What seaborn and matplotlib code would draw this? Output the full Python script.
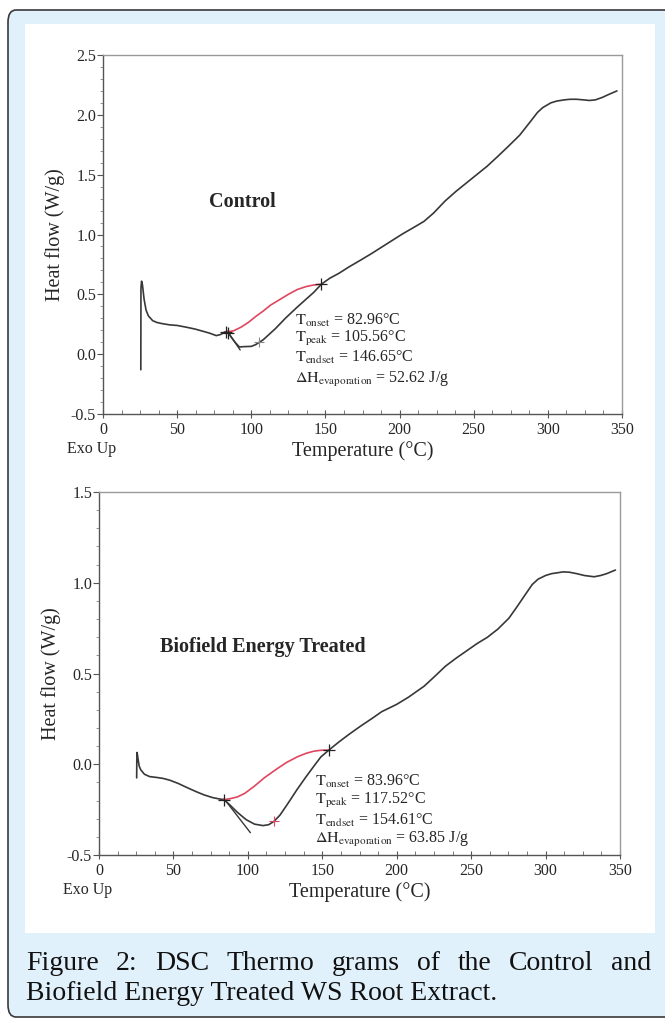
import numpy as np
import pandas as pd
import matplotlib
matplotlib.use("Agg")
import matplotlib.pyplot as plt
import seaborn as sns
from matplotlib.patches import Rectangle, FancyBboxPatch
from matplotlib.ticker import MultipleLocator

# control thermogram
ctrl_T = [25.5, 25.6, 26.0, 26.6, 27.7, 29.0, 30.6, 33.5, 36.3, 40.0, 44.9, 50.0, 56.3, 62.0,
          67.8, 72.0, 76.4, 79.5, 82.0, 84.0, 86.0, 89.0, 92.0, 95.0, 100.0, 103.0, 105.5,
          108.0, 112.0, 116.4, 123.0, 130.7, 137.0, 142.0, 147.3, 153.0, 159.0, 166.0, 173.6,
          181.0, 188.0, 195.0, 202.0, 209.0, 216.5, 223.0, 230.7, 238.0, 245.0, 252.0, 259.0,
          266.0, 273.6, 281.0, 288.0, 293.0, 296.5, 302.0, 306.0, 311.0, 315.0, 319.4, 324.0,
          328.0, 332.0, 336.6, 341.0, 346.6]
ctrl_HF = [-0.13, 0.55, 0.61, 0.58, 0.46, 0.37, 0.32, 0.28, 0.265, 0.255, 0.245, 0.24, 0.225,
           0.21, 0.19, 0.175, 0.155, 0.165, 0.185, 0.19, 0.15, 0.10, 0.06, 0.063, 0.065, 0.08,
           0.10, 0.12, 0.165, 0.215, 0.30, 0.39, 0.46, 0.515, 0.585, 0.635, 0.675, 0.73, 0.785,
           0.84, 0.895, 0.95, 1.005, 1.055, 1.11, 1.18, 1.28, 1.36, 1.43, 1.50, 1.57, 1.65,
           1.74, 1.83, 1.94, 2.02, 2.06, 2.10, 2.115, 2.125, 2.13, 2.13, 2.125, 2.12, 2.125,
           2.145, 2.17, 2.20]
ctrl_base_T = [83.0, 88.0, 93.0, 98.0, 103.0, 108.0, 113.0, 119.0, 125.0, 131.0, 137.0, 142.0, 147.3]
ctrl_base_HF = [0.185, 0.195, 0.225, 0.265, 0.315, 0.36, 0.41, 0.455, 0.50, 0.54, 0.565, 0.578, 0.585]
ctrl_tan_T = [84.0, 92.5]
ctrl_tan_HF = [0.19, 0.035]
ctrl_marks_T = [83.0, 84.5, 147.3]
ctrl_marks_HF = [0.185, 0.18, 0.585]
ctrl_peak = (105.5, 0.10)
ctrl_notes = ["82.96°C", "105.56°C", "146.65°C", "52.62 J/g"]

# biofield treated thermogram
bio_T = [25.3, 25.4, 25.6, 26.2, 27.0, 28.0, 30.5, 34.0, 39.0, 43.0, 47.6, 53.0, 59.0, 65.0,
         70.3, 76.0, 80.0, 84.0, 88.0, 93.0, 98.8, 104.5, 110.2, 114.0, 117.5, 121.6, 127.0,
         133.0, 139.0, 144.4, 149.0, 154.4, 161.5, 168.0, 175.7, 183.0, 190.0, 200.0, 208.0,
         218.4, 225.0, 232.7, 240.0, 247.0, 254.0, 261.0, 268.0, 275.4, 281.0, 286.8, 291.0,
         295.0, 300.0, 304.0, 308.0, 312.0, 316.0, 321.0, 326.0, 332.6, 337.0, 341.0, 346.9]
bio_HF = [-0.075, 0.02, 0.065, 0.03, -0.01, -0.03, -0.055, -0.068, -0.073, -0.078, -0.088,
          -0.105, -0.128, -0.15, -0.168, -0.183, -0.19, -0.195, -0.225, -0.265, -0.305, -0.33,
          -0.338, -0.333, -0.315, -0.28, -0.215, -0.14, -0.07, -0.01, 0.04, 0.078, 0.125, 0.165,
          0.21, 0.25, 0.29, 0.33, 0.37, 0.43, 0.48, 0.54, 0.585, 0.625, 0.665, 0.70, 0.745,
          0.805, 0.87, 0.94, 0.99, 1.02, 1.04, 1.05, 1.055, 1.06, 1.058, 1.05, 1.04, 1.033,
          1.04, 1.05, 1.07]
bio_base_T = [84.0, 88.0, 93.0, 98.0, 104.5, 111.0, 118.7, 126.0, 133.0, 139.0, 144.4, 149.0, 154.4]
bio_base_HF = [-0.195, -0.19, -0.18, -0.16, -0.12, -0.075, -0.03, 0.01, 0.04, 0.06, 0.072, 0.077, 0.078]
bio_tan_T = [84.0, 101.7]
bio_tan_HF = [-0.19, -0.377]
bio_marks_T = [84.0, 154.4]
bio_marks_HF = [-0.195, 0.078]
bio_peak = (117.5, -0.315)
bio_notes = ["83.96°C", "117.52°C", "154.61°C", "63.85 J/g"]

note_keys = [r"$\mathrm{T_{onset}}$", r"$\mathrm{T_{peak}}$", r"$\mathrm{T_{endset}}$",
             r"$\mathrm{\Delta H_{evaporation}}$"]

sns.set_theme(style="ticks")
plt.rcParams["font.family"] = ["Liberation Serif", "DejaVu Serif"]
plt.rcParams["mathtext.fontset"] = "stix"

fig = plt.figure(figsize=(6.65, 10.19), dpi=100)
fig.patch.set_facecolor("white")
W, H = 665, 1019

# page frame + white panel
frame = FancyBboxPatch((8 / W, 2 / H), 700 / W, 1007 / H, boxstyle="round,pad=0,rounding_size=0.012",
                       transform=fig.transFigure, facecolor="#e1f1fb", edgecolor="#3a3a3a",
                       linewidth=1.2, zorder=-3)
fig.patches.append(frame)
fig.patches.append(Rectangle((25 / W, 1 - 933 / H), 630 / W, (933 - 24) / H,
                             transform=fig.transFigure, facecolor="white", edgecolor="none", zorder=-2))

line_c = "#383838"
red_c = "#e0465e"


def draw_panel(ax, T, HF, bT, bHF, tT, tHF, mT, mHF, peak, ylim, yticks, label, label_xy,
               notes, notes_xy, peak_color):
    df = pd.DataFrame({"T": T, "HF": HF})
    sns.lineplot(data=df, x="T", y="HF", ax=ax, color=line_c, linewidth=1.2,
                 estimator=None, sort=False)
    sns.lineplot(x=tT, y=tHF, ax=ax, color=line_c, linewidth=1.0, estimator=None, sort=False)
    sns.lineplot(x=bT, y=bHF, ax=ax, color=red_c, linewidth=1.2, estimator=None, sort=False)
    ax.scatter(mT, mHF, marker="+", s=70, color="#222222", linewidths=0.9, zorder=4)
    ax.scatter([peak[0]], [peak[1]], marker="+", s=60, color=peak_color, linewidths=0.8, zorder=4)

    ax.set_xlim(0, 350)
    ax.set_ylim(*ylim)
    ax.set_xticks(np.arange(0, 351, 50))
    ax.set_yticks(yticks)
    ax.set_yticklabels([f"{v:.1f}" for v in yticks])
    ax.xaxis.set_minor_locator(MultipleLocator(12.5))
    ax.yaxis.set_minor_locator(MultipleLocator(0.1))
    ax.tick_params(axis="x", which="major", direction="inout", length=6, width=0.8,
                   color="#555555", labelsize=11.5, pad=3)
    ax.tick_params(axis="x", which="minor", direction="in", length=3, width=0.7, color="#777777")
    ax.tick_params(axis="y", which="major", direction="out", length=4, width=0.8,
                   color="#555555", labelsize=11.5, pad=1)
    ax.tick_params(axis="y", which="minor", direction="out", length=2, width=0.6, color="#888888")
    for s in ["left", "bottom"]:
        ax.spines[s].set_color("#555555")
        ax.spines[s].set_linewidth(1.0)
    for s in ["top", "right"]:
        ax.spines[s].set_color("#9a9a9a")
        ax.spines[s].set_linewidth(1.0)
    ax.set_facecolor("white")
    ax.grid(False)

    ax.set_xlabel("Temperature (°C)", fontsize=14.5, labelpad=2)
    ax.set_ylabel("Heat flow (W/g)", fontsize=14.5, labelpad=4)
    ax.text(-8, -0.075, "Exo Up", transform=ax.get_xaxis_transform(), fontsize=11.5,
            ha="center", va="top")
    ax.text(label_xy[0], label_xy[1], label, fontsize=14.5, fontweight="bold", va="center")
    for i, (k, v) in enumerate(zip(note_keys, notes)):
        ax.text(notes_xy[0], notes_xy[1][i], f"{k} = {v}", fontsize=11.5, va="center")


ax1 = fig.add_axes([103 / W, 1 - 414 / H, 519 / W, 359 / H])
draw_panel(ax1, ctrl_T, ctrl_HF, ctrl_base_T, ctrl_base_HF, ctrl_tan_T, ctrl_tan_HF,
           ctrl_marks_T, ctrl_marks_HF, ctrl_peak, (-0.5, 2.5),
           [-0.5, 0.0, 0.5, 1.0, 1.5, 2.0, 2.5], "Control", (71.5, 1.275),
           ctrl_notes, (129.5, [0.28, 0.13, -0.03, -0.21]), "#888888")

ax2 = fig.add_axes([99 / W, 1 - 855 / H, 521 / W, 363 / H])
draw_panel(ax2, bio_T, bio_HF, bio_base_T, bio_base_HF, bio_tan_T, bio_tan_HF,
           bio_marks_T, bio_marks_HF, bio_peak, (-0.5, 1.5),
           [-0.5, 0.0, 0.5, 1.0, 1.5], "Biofield Energy Treated", (41, 0.646),
           bio_notes, (144.9, [-0.096, -0.2, -0.307, -0.417]), red_c)

# caption, first line justified
cap_font = dict(fontsize=20, family=["Liberation Serif", "DejaVu Serif"], color="#111111")
words = ["Figure", "2:", "DSC", "Thermo", "grams", "of", "the", "Control", "and"]
renderer = fig.canvas.get_renderer()
txts = [fig.text(0, 1 - 970 / H, w, va="baseline", ha="left", **cap_font) for w in words]
widths = [t.get_window_extent(renderer).width for t in txts]
x0, x1 = 26.0, 651.0
gap = (x1 - x0 - sum(widths)) / (len(words) - 1)
x = x0
for t, wd in zip(txts, widths):
    t.set_x(x / W)
    x += wd + gap
fig.text(26 / W, 1 - 1000 / H, "Biofield Energy Treated WS Root Extract.", va="baseline",
         ha="left", **cap_font)

fig.savefig("out.png", dpi=100, facecolor=fig.get_facecolor())
